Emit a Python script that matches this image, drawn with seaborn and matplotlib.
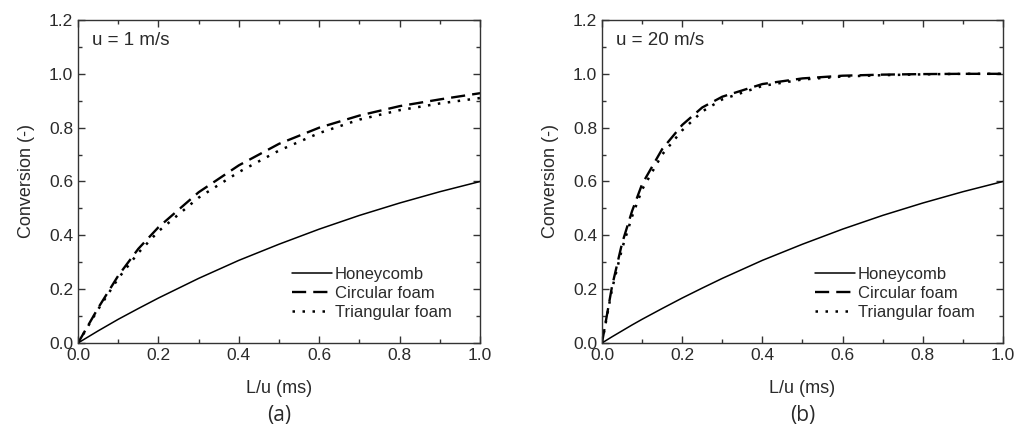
import numpy as np
import pandas as pd
import matplotlib
matplotlib.use("Agg")
import matplotlib.pyplot as plt
import seaborn as sns
from matplotlib.ticker import MultipleLocator

# ---- data ----
x_a = [0.0, 0.05, 0.1, 0.15, 0.2, 0.3, 0.4, 0.5, 0.6, 0.7, 0.8, 0.9, 1.0]
honey_a = [0.0, 0.045, 0.088, 0.128, 0.167, 0.24, 0.307, 0.367, 0.423, 0.474, 0.52, 0.562, 0.60]
circ_a = [0.0, 0.13, 0.25, 0.35, 0.43, 0.56, 0.66, 0.74, 0.80, 0.845, 0.88, 0.905, 0.928]
tri_a = [0.0, 0.125, 0.24, 0.335, 0.415, 0.54, 0.635, 0.715, 0.78, 0.83, 0.865, 0.89, 0.91]

x_b = [0.0, 0.025, 0.05, 0.075, 0.1, 0.15, 0.2, 0.25, 0.3, 0.4, 0.5, 0.6, 0.7, 0.8, 0.9, 1.0]
honey_b = [0.0, 0.023, 0.045, 0.067, 0.088, 0.128, 0.167, 0.204, 0.24, 0.307, 0.367, 0.423, 0.474, 0.52, 0.562, 0.60]
circ_b = [0.0, 0.21, 0.37, 0.49, 0.59, 0.72, 0.81, 0.875, 0.915, 0.962, 0.983, 0.993, 0.997, 0.999, 1.0, 1.0]
tri_b = [0.0, 0.20, 0.35, 0.47, 0.57, 0.70, 0.79, 0.86, 0.905, 0.955, 0.979, 0.99, 0.995, 0.998, 1.0, 1.0]

series_names = ["Honeycomb", "Circular foam", "Triangular foam"]
panel_titles = ["u = 1 m/s", "u = 20 m/s"]
panel_tags = ["(a)", "(b)"]
x_label = "L/u (ms)"
y_label = "Conversion (-)"

sns.set_theme(style="ticks")
plt.rcParams["font.family"] = ["Liberation Sans", "DejaVu Sans"]

txt = "#2a2a2a"
fig = plt.figure(figsize=(10.16, 4.29), dpi=100)
axes = [fig.add_axes([0.0768, 0.2005, 0.3957, 0.7529]),
        fig.add_axes([0.5925, 0.2005, 0.3947, 0.7529])]

styles = {
    "Honeycomb": dict(lw=1.1, dashes=None),
    "Circular foam": dict(lw=1.7, dashes=(6, 3)),
    "Triangular foam": dict(lw=1.8, dashes=(1, 3)),
}

panels = [(x_a, [honey_a, circ_a, tri_a]), (x_b, [honey_b, circ_b, tri_b])]

for i, (ax, (xs, ys)) in enumerate(zip(axes, panels)):
    for name, y in zip(series_names, ys):
        df = pd.DataFrame({"x": xs, "y": y})
        st = styles[name]
        sns.lineplot(data=df, x="x", y="y", ax=ax, label=name,
                     color="black", lw=st["lw"])
        ln = ax.get_lines()[-1]
        if st["dashes"] is not None:
            ln.set_dashes(st["dashes"])
    ax.set_xlim(0, 1.0)
    ax.set_ylim(0, 1.2)
    ax.xaxis.set_major_locator(MultipleLocator(0.2))
    ax.xaxis.set_minor_locator(MultipleLocator(0.1))
    ax.yaxis.set_major_locator(MultipleLocator(0.2))
    ax.yaxis.set_minor_locator(MultipleLocator(0.1))
    ax.tick_params(which="both", direction="in", top=True, right=True,
                   colors="#333333", labelcolor=txt, labelsize=12.5, width=1)
    ax.tick_params(which="major", length=5)
    ax.tick_params(which="minor", length=3)
    for sp in ax.spines.values():
        sp.set_color("#333333")
        sp.set_linewidth(1.0)
    ax.set_xlabel(x_label, fontsize=13, color=txt, labelpad=12)
    ax.set_ylabel(y_label, fontsize=13, color=txt, labelpad=10)
    ax.text(0.035, 0.935, panel_titles[i], transform=ax.transAxes,
            fontsize=13.5, color=txt, va="center", ha="left")
    ax.text(0.5, -0.225, panel_tags[i], transform=ax.transAxes,
            fontsize=15, color=txt, va="center", ha="center",
            family=["Open Sans", "DejaVu Sans"])
    leg = ax.legend(loc="lower right", bbox_to_anchor=(0.955, 0.04), frameon=False,
                    fontsize=12, handlelength=2.4, handletextpad=0.2,
                    labelspacing=0.25, borderaxespad=0.2)
    for t in leg.get_texts():
        t.set_color(txt)

fig.savefig("out.png", dpi=100)
